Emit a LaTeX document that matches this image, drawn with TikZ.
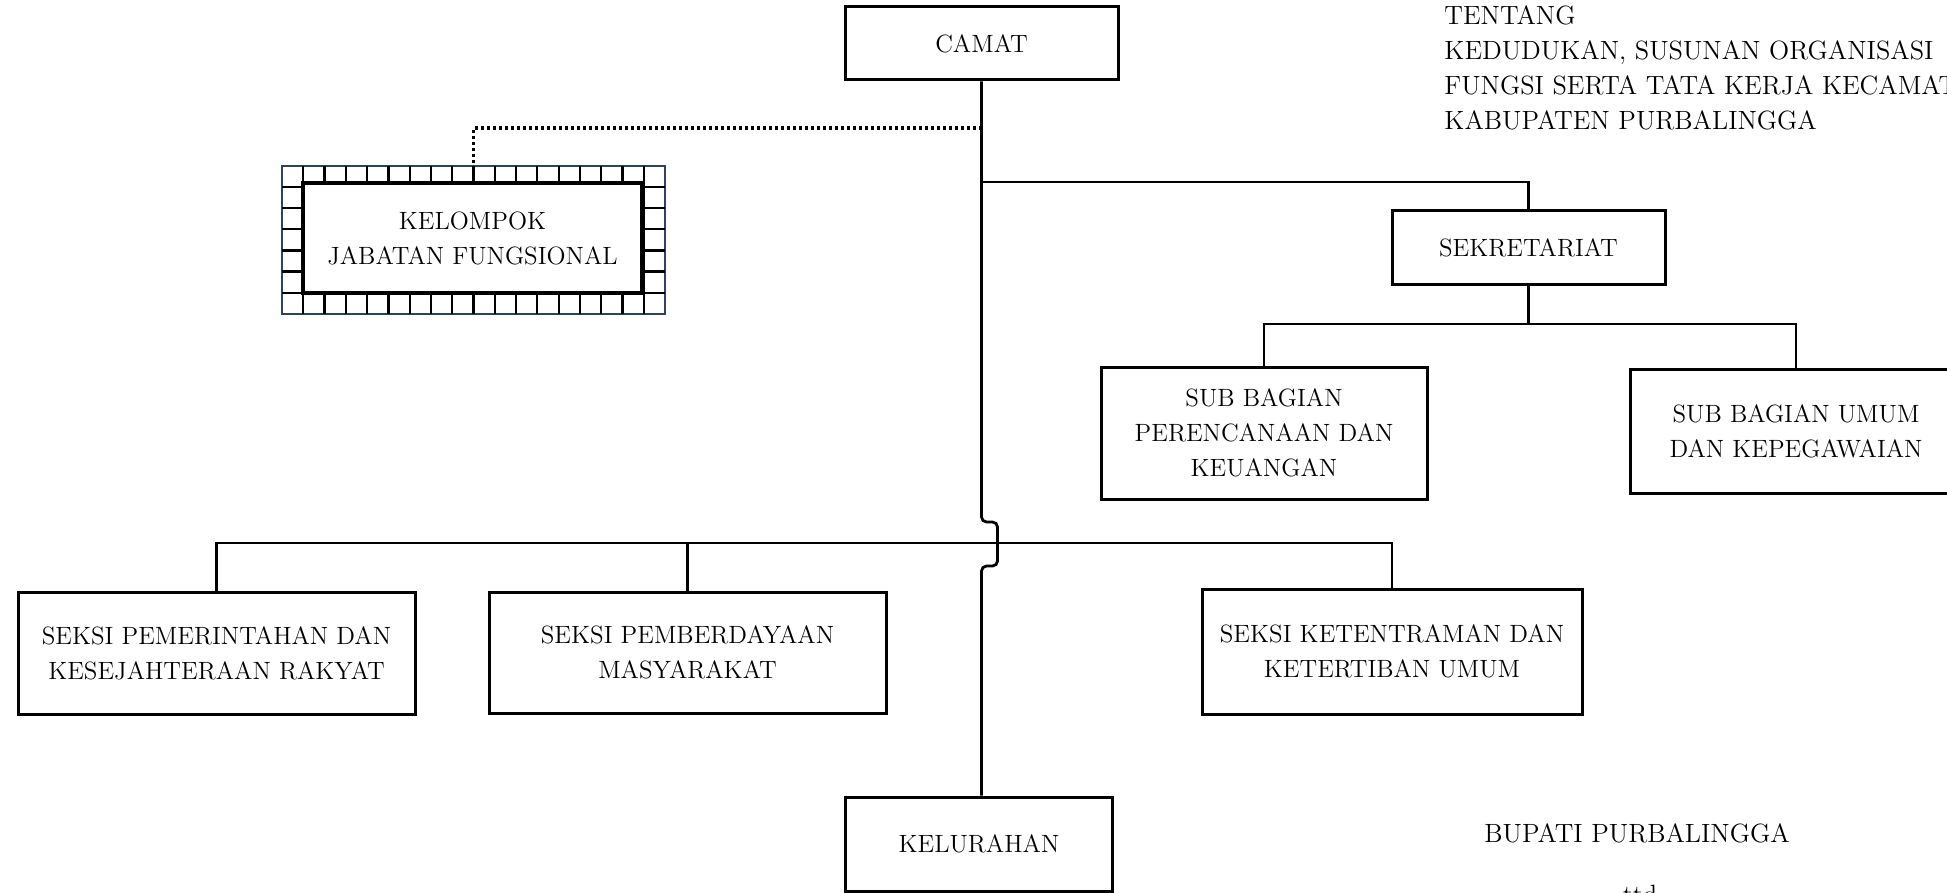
\documentclass[tikz,border=0pt]{standalone}
\usepackage{fontspec}
\definecolor{bingkai}{RGB}{48,66,100}
\begin{document}
\begin{tikzpicture}[x=0.5pt,y=-0.5pt,
  kotak/.style={draw,line width=1.5pt,align=center,inner sep=0pt,font=\fontsize{12.5}{17.5}\selectfont},
  garis/.style={line width=1.4pt},
  titik/.style={line width=1.6pt,dash pattern=on 1.4pt off 1.6pt},
  kisi/.style={line width=1.1pt},
  teks/.style={inner sep=0pt,align=left,font=\fontsize{13.2}{17.5}\selectfont}]
  \useasboundingbox (0,0) rectangle (1947,893);
  \clip (0,0) rectangle (1947,893);
  % camat
  \node[kotak,minimum width=136.5pt,minimum height=36.5pt] (camat) at (981.5,43.5) {CAMAT};
  % kelompok jabatan fungsional, bingkai kotak-kotak
  \node[draw=bingkai,line width=0.9pt,minimum width=191.5pt,minimum height=74pt,inner sep=0pt] (bingkai) at (473.5,240) {};
  \foreach \i in {1,...,17}
    \draw[kisi] (282+\i*21.28,166) -- (282+\i*21.28,314);
  \foreach \j in {1,...,6}
    \draw[kisi] (282,166+\j*21.1) -- (665,166+\j*21.1);
  \node[kotak,fill=white,line width=1.8pt,minimum width=169.5pt,minimum height=55pt] (jabfung) at (472.5,238) {KELOMPOK\\JABATAN FUNGSIONAL};
  % sekretariat
  \node[kotak,minimum width=136.5pt,minimum height=36.5pt] (sekre) at (1528.5,247.5) {SEKRETARIAT};
  \node[kotak,minimum width=163pt,minimum height=66pt] (subrencana) at (1264,433) {SUB BAGIAN\\PERENCANAAN DAN\\KEUANGAN};
  \node[kotak,minimum width=166pt,minimum height=62pt] (subumum) at (1796,431) {SUB BAGIAN UMUM\\DAN KEPEGAWAIAN};
  % seksi
  \node[kotak,minimum width=198.5pt,minimum height=61pt] (seksipem) at (216.5,653) {SEKSI PEMERINTAHAN DAN\\KESEJAHTERAAN RAKYAT};
  \node[kotak,minimum width=198.5pt,minimum height=60.5pt] (seksipmd) at (687.5,652.5) {SEKSI PEMBERDAYAAN\\MASYARAKAT};
  \node[kotak,minimum width=190pt,minimum height=62.5pt] (seksitrantib) at (1392,651.5) {SEKSI KETENTRAMAN DAN\\KETERTIBAN UMUM};
  % kelurahan
  \node[kotak,minimum width=133.5pt,minimum height=47pt] (kelurahan) at (979,844) {KELURAHAN};
  % titik cabang
  \coordinate (tjabfung) at (981.5,128);
  \coordinate (tsekre) at (981.5,182);
  \coordinate (tsub) at (1528.5,324);
  \coordinate (tseksi) at (981.5,543);
  \coordinate (tlompat) at (981.5,522);
  % garis komando
  \draw[garis,rounded corners=2.5pt] (camat.south) -- (tlompat) -- ++(16,0) -- ++(0,44)
      -- ++(-16,0) -- (kelurahan.north -| camat.south);
  \draw[titik] (tjabfung) -| (bingkai.north);
  \draw[garis] (tsekre) -| (sekre.north);
  \draw[garis] (sekre.south) -- (tsub);
  \draw[garis] (subrencana.north) -- (subrencana.north |- tsub) -- (subumum.north |- tsub) -- (subumum.north);
  \draw[garis] (seksipem.north) -- (seksipem.north |- tseksi) -- (seksitrantib.north |- tseksi) -- (seksitrantib.north);
  \draw[garis] (seksipmd.north) -- (seksipmd.north |- tseksi);
  % teks kanan
  \node[teks,anchor=north west] (tentang) at (1444,5) {TENTANG\\KEDUDUKAN, SUSUNAN ORGANISASI\\FUNGSI SERTA TATA KERJA KECAMATAN\\KABUPATEN PURBALINGGA};
  \node[teks,anchor=base west] (bupati) at (1484,842) {BUPATI PURBALINGGA};
  \node[teks,anchor=base] (ttd) at (1640,903) {ttd};
\end{tikzpicture}
\end{document}
